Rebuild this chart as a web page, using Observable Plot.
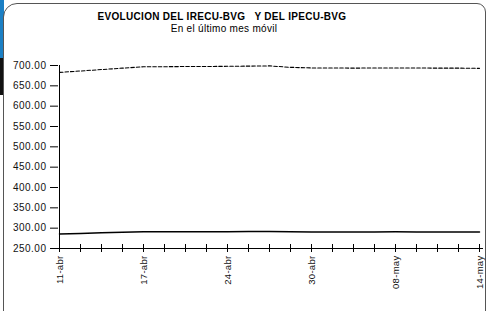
<!DOCTYPE html>
<html><head><meta charset="utf-8">
<script src="https://cdn.jsdelivr.net/npm/d3@7"></script>
<script src="https://cdn.jsdelivr.net/npm/@observablehq/plot@0.6"></script>
<style>
body{margin:0;background:#fff;}
#wrap{position:relative;width:488px;height:311px;overflow:hidden;font-family:"Liberation Sans",Arial,sans-serif;}
#frame{position:absolute;left:3px;top:3px;width:483px;height:340px;border:1px solid #555;border-radius:14px 9px 0 0;box-sizing:border-box;}
#blue{position:absolute;left:0;top:0;width:4px;height:58px;background:#1b7fc4;}
#black{position:absolute;left:0;top:58px;width:4px;height:37px;background:#111;}
#title{position:absolute;left:0;width:444px;top:12px;text-align:center;font-size:10px;line-height:10px;letter-spacing:0.3px;font-weight:bold;white-space:pre;color:#000;}
#sub{position:absolute;left:0;width:448px;top:24px;text-align:center;font-size:10px;line-height:10px;letter-spacing:0.3px;color:#000;}
#chart{position:absolute;left:0;top:0;}
.ylab text{letter-spacing:0.5px;}
.xlab text{letter-spacing:0.3px;}
</style></head>
<body>
<div id="wrap">
<div id="blue"></div><div id="black"></div>
<div id="frame"></div>
<div id="chart"></div>
<div id="title">EVOLUCION DEL IRECU-BVG   Y DEL IPECU-BVG</div>
<div id="sub">En el último mes móvil</div>
</div>
<script>
const fechas = ["11-abr","14-abr","15-abr","16-abr","17-abr","18-abr","21-abr","22-abr","24-abr","25-abr","28-abr","29-abr","30-abr","02-may","05-may","06-may","08-may","09-may","12-may","13-may","14-may"];
const etiquetas = ["11-abr","17-abr","24-abr","30-abr","08-may","14-may"];
const irecu = [683,686.5,690,693.5,697,697,697.5,697.5,698,698.5,699,695.5,694,694,693.5,694,694,694,693.5,693.5,693];
const ipecu = [285.5,287,288.5,290,291,291,291,291,291,291.5,292,291,290.5,290.5,290.5,290.5,291,290.5,290.5,290.5,290.5];
const yTicks = [250,300,350,400,450,500,550,600,650,700];

const data = fechas.map((f,i)=>({fecha:f, irecu:irecu[i], ipecu:ipecu[i]}));

const chart = Plot.plot({
  width:488, height:311,
  marginLeft:54, marginRight:5, marginTop:65, marginBottom:63,
  style:{fontFamily:'"Liberation Sans",Arial,sans-serif', fontSize:"9px", background:"transparent", color:"#000", overflow:"visible"},
  x:{type:"point", domain:fechas, padding:0, axis:null},
  y:{domain:[250,700], axis:null},
  marks:[
    Plot.axisY({ticks:yTicks, tickSize:8, dx:4, tickFormat:()=>"", label:null, stroke:"#000"}),
    Plot.axisY({ticks:yTicks, tickSize:0, tickPadding:8, tickFormat:d=>d.toFixed(2), label:null, fill:"#111", fontSize:10, className:"ylab"}),
    Plot.axisX({ticks:fechas, tickSize:8, dy:-4, tickFormat:()=>"", label:null, stroke:"#000"}),
    Plot.axisX({ticks:etiquetas, tickSize:0, tickPadding:7, tickRotate:-90, label:null, fill:"#111", fontSize:9.5, className:"xlab"}),
    Plot.ruleY([250],{stroke:"#000"}),
    Plot.ruleX([fechas[0]],{stroke:"#000"}),
    Plot.line(data,{x:"fecha", y:"irecu", stroke:"#000", strokeWidth:1.1, strokeDasharray:"3.5,2"}),
    Plot.line(data,{x:"fecha", y:"ipecu", stroke:"#000", strokeWidth:1.5})
  ]
});
document.getElementById("chart").appendChild(chart);
</script>
</body></html>
